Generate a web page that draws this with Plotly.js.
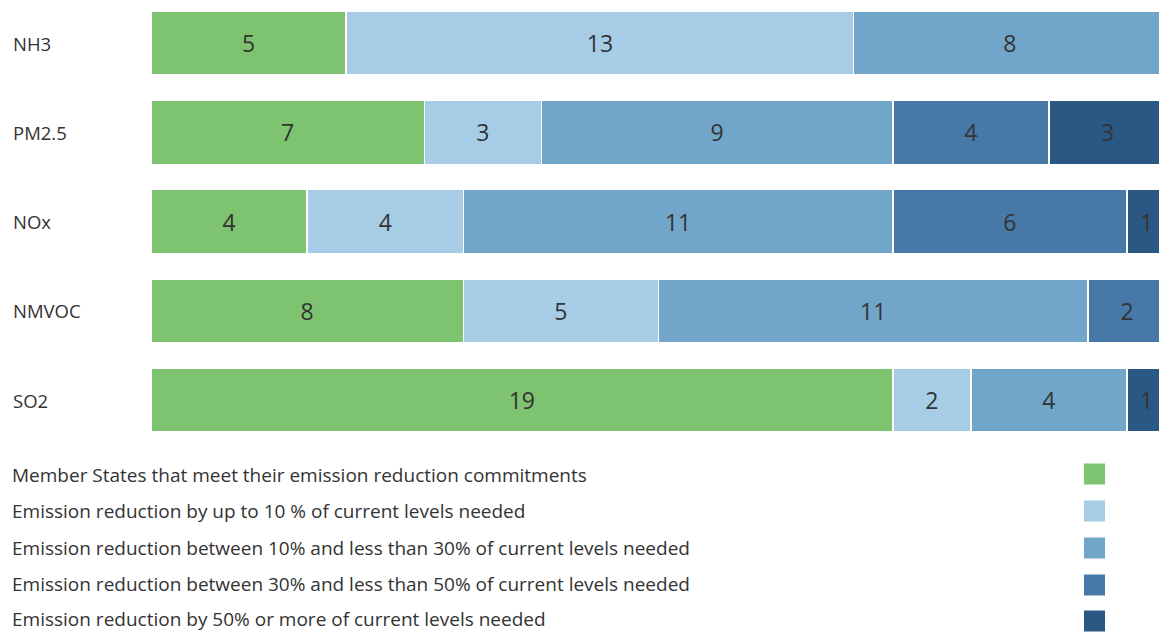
<!DOCTYPE html>
<html><head><meta charset="utf-8">
<script src="https://cdn.plot.ly/plotly-3.0.1.min.js"></script>
<style>html,body{margin:0;padding:0;background:#fff}#chart{width:1159px;height:633px}</style>
</head><body><div id="chart"></div>
<script>
const pollutants = ["NH3", "PM2.5", "NOx", "NMVOC", "SO2"];
const seriesNames = [
  "Member States that meet their emission reduction commitments",
  "Emission reduction by up to 10 % of current levels needed",
  "Emission reduction between 10% and less than 30% of current levels needed",
  "Emission reduction between 30% and less than 50% of current levels needed",
  "Emission reduction by 50% or more of current levels needed"
];
const meetCommitments = [5, 7, 4, 8, 19];
const upTo10 = [13, 3, 4, 5, 2];
const from10to30 = [8, 9, 11, 11, 4];
const from30to50 = [0, 4, 6, 2, 0];
const over50 = [0, 3, 1, 0, 1];
const seriesValues = [meetCommitments, upTo10, from10to30, from30to50, over50];
const colors = ["#7DC370", "#A7CDE6", "#72A5CA", "#4878A8", "#2B5783"];

const W = 1159, H = 633, ml = 151, mr = 0, mt = 0, mb = 193;
const pw = W - ml - mr, ph = H - mt - mb;
const px2x = p => (p - ml) / pw;
const py2y = p => (mt + ph - p) / ph;

const FONT = "Open Sans, sans-serif";
const traces = seriesValues.map((vals, i) => ({
  type: "bar", orientation: "h", name: seriesNames[i],
  y: pollutants, x: vals.map(v => v === 0 ? null : v),
  marker: {color: colors[i], line: {color: "#ffffff", width: 1.5}},
  text: vals.map(v => v === 0 ? "" : String(v)),
  texttemplate: "%{text}",
  textposition: "inside", insidetextanchor: "middle", constraintext: "none",
  textangle: 0,
  insidetextfont: {family: FONT, size: 23, color: "#333333"},
  hoverinfo: "name+x", showlegend: false
}));

const annotations = pollutants.map(p => ({
  xref: "paper", yref: "y", x: px2x(11), y: p, xanchor: "left", yanchor: "middle",
  text: p, showarrow: false, font: {family: FONT, size: 18.5, color: "#333333"}
}));
const legY = [475, 511, 548, 584, 619];
const boxY = [474, 511, 548, 585, 621];
const shapes = [];
seriesNames.forEach((n, i) => {
  annotations.push({
    xref: "paper", yref: "paper", x: px2x(10), y: py2y(legY[i]), xanchor: "left", yanchor: "middle",
    text: n, showarrow: false, font: {family: FONT, size: 19, color: "#333333"}
  });
  shapes.push({
    type: "rect", xref: "paper", yref: "paper",
    x0: px2x(1084), x1: px2x(1105), y0: py2y(boxY[i] - 10.5), y1: py2y(boxY[i] + 10.5),
    fillcolor: colors[i], line: {width: 0}
  });
});

const layout = {
  width: W, height: H, margin: {l: ml, r: mr, t: mt, b: mb},
  paper_bgcolor: "#ffffff", plot_bgcolor: "#ffffff",
  barmode: "stack", bargap: 0.283,
  xaxis: {range: [0, 25.82], showgrid: false, zeroline: false, showticklabels: false, ticks: "", fixedrange: true},
  yaxis: {range: [4.448, -0.482], showgrid: false, zeroline: false, showticklabels: false, ticks: "", fixedrange: true},
  annotations: annotations, shapes: shapes, showlegend: false,
  font: {family: FONT, color: "#333333"}
};
Plotly.newPlot("chart", traces, layout, {displayModeBar: false, staticPlot: true});
</script></body></html>
